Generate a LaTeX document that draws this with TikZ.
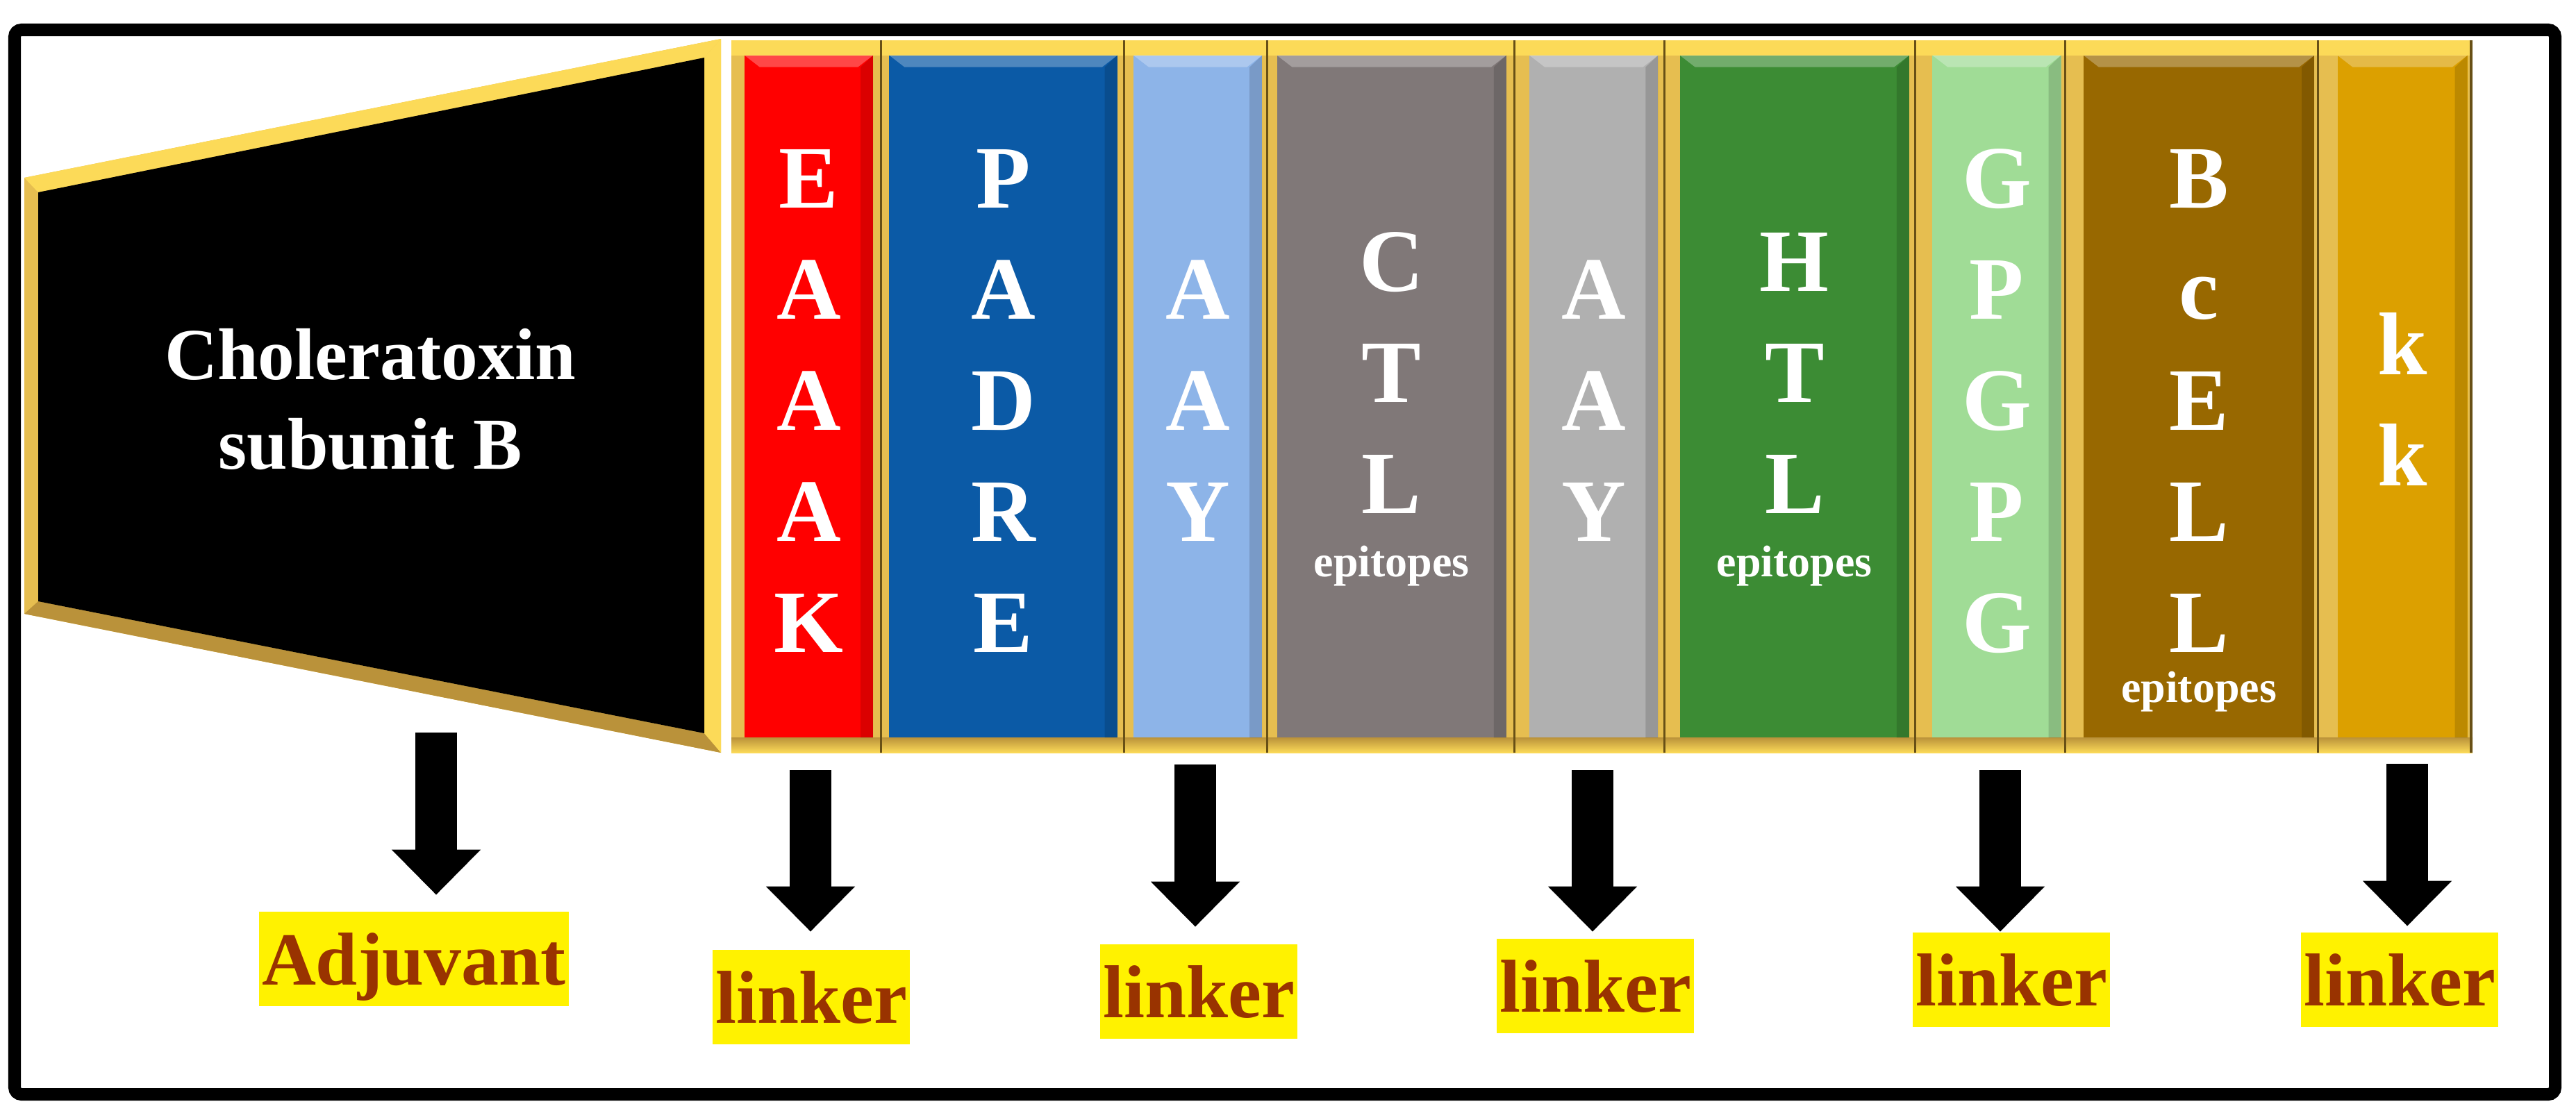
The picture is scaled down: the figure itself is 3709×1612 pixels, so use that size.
\documentclass[tikz,border=0pt]{standalone}
\usepackage{fontspec}
\setmainfont{Liberation Serif}
\usetikzlibrary{arrows.meta,positioning,calc}
\definecolor{GoldMid}{RGB}{230,190,80}
\definecolor{GoldTop}{RGB}{252,218,88}
\definecolor{GoldBot}{RGB}{186,146,58}
\definecolor{GoldDark}{RGB}{104,80,22}
\definecolor{EakRed}{RGB}{255,0,0}
\definecolor{PadreBlue}{RGB}{11,90,166}
\definecolor{AayBlue}{RGB}{141,180,232}
\definecolor{CtlGray}{RGB}{128,120,120}
\definecolor{AayGray}{RGB}{176,176,176}
\definecolor{HtlGreen}{RGB}{60,140,52}
\definecolor{GpgLime}{RGB}{160,220,150}
\definecolor{BcellBrown}{RGB}{152,104,0}
\definecolor{KkOrange}{RGB}{220,160,0}
\definecolor{LabelBrown}{RGB}{153,51,0}

\begin{document}
\begin{tikzpicture}[x=0.01cm,y=-0.01cm,
  bevel/.style={path picture={
    \fill[white,opacity=.28] (path picture bounding box.north west) -- (path picture bounding box.north east)
      -- ([shift={(-0.22cm,-0.17cm)}]path picture bounding box.north east) -- ([shift={(0.22cm,-0.17cm)}]path picture bounding box.north west) -- cycle;
    \fill[black,opacity=.14] (path picture bounding box.north east) -- (path picture bounding box.south east)
      -- ([shift={(-0.18cm,0cm)}]path picture bounding box.south east) -- ([shift={(-0.18cm,-0.17cm)}]path picture bounding box.north east) -- cycle;
  }},
  blk/.style={rectangle,inner sep=0pt,minimum height=9.82cm,bevel},
  ltr/.style={anchor=base,inner sep=0pt,text=white,font=\fontsize{36.5}{36.5}\selectfont\bfseries},
  epi/.style={anchor=base,inner sep=0pt,text=white,font=\fontsize{18.2}{18.2}\selectfont\bfseries},
  lab/.style={fill=yellow,text=LabelBrown,font=\fontsize{30.7}{30.7}\selectfont\bfseries,minimum height=1.35cm,inner xsep=0.04cm,inner ysep=0pt,text depth=0pt},
  bigarrow/.style={line width=0.6cm,-{Triangle[length=0.65cm,width=1.24cm]}},
  sepline/.style={draw=GoldDark,line width=0.03cm}
]
  \useasboundingbox (0,0) rectangle (3709,1612);
  % outer frame
  \draw[line width=0.18cm,rounded corners=0.1cm] (21,43) rectangle (3679,1576);

  % cholera toxin B trapezoid
  \fill[GoldMid] (35,256) -- (1038,56) -- (1038,1084) -- (35,884) -- cycle;
  \fill[GoldTop] (35,256) -- (1038,56) -- (1014,83) -- (55,277) -- cycle;
  \fill[GoldBot] (35,884) -- (55,866) -- (1014,1056) -- (1038,1084) -- cycle;
  \fill[GoldTop] (1014,83) -- (1038,56) -- (1038,1084) -- (1014,1056) -- cycle;
  \fill[black] (55,277) -- (1014,83) -- (1014,1056) -- (55,866) -- cycle;
  \node[inner sep=0pt,text=white,align=center,font=\fontsize{30}{36.7}\selectfont\bfseries] (ctb) at (533,575) {Choleratoxin\\subunit B};

  % gold rail behind the blocks
  \fill[GoldMid] (1053,58) rectangle (3560,1084);
  \fill[GoldTop] (1053,58) rectangle (3560,80);
  \shade[top color=GoldBot,bottom color=GoldTop] (1053,1062) rectangle (3560,1084);
  \foreach \sx in {1268,1618,1824,2180,2396,2757,2973,3337}
    \draw[sepline] (\sx,58) -- (\sx,1084);
  \draw[GoldDark,line width=0.04cm] (3558,58) -- (3558,1084);

  % blocks
  \node[blk,fill=EakRed,minimum width=1.85cm] (eaaak) at (1164.5,571) {};
  \node[blk,fill=PadreBlue,minimum width=3.28cm,right=0.22cm of eaaak] (padre) {};
  \node[blk,fill=AayBlue,minimum width=1.85cm,right=0.22cm of padre] (aay1) {};
  \node[blk,fill=CtlGray,minimum width=3.30cm,right=0.20cm of aay1] (ctl) {};
  \node[blk,fill=AayGray,minimum width=1.85cm,right=0.32cm of ctl] (aay2) {};
  \node[blk,fill=HtlGreen,minimum width=3.30cm,right=0.30cm of aay2] (htl) {};
  \node[blk,fill=GpgLime,minimum width=1.85cm,right=0.32cm of htl] (gpgpg) {};
  \node[blk,fill=BcellBrown,minimum width=3.32cm,right=0.31cm of gpgpg] (bcell) {};
  \node[blk,fill=KkOrange,minimum width=1.87cm,right=0.32cm of bcell] (kk) {};

  % letters
  \foreach \ch [count=\i] in {E,A,A,A,K}
    \node[ltr] (eaaak-\i) at ($(eaaak.north)+(0,{60+160*\i})$) {\ch};
  \foreach \ch [count=\i] in {P,A,D,R,E}
    \node[ltr] (padre-\i) at ($(padre.north)+(0,{60+160*\i})$) {\ch};
  \foreach \ch [count=\i] in {A,A,Y}
    \node[ltr] (aay1-\i) at ($(aay1.north)+(0,{220+160*\i})$) {\ch};
  \foreach \ch [count=\i] in {C,T,L}
    \node[ltr] (ctl-\i) at ($(ctl.north)+(0,{180+160*\i})$) {\ch};
  \node[epi] (ctl-ep) at ($(ctl.north)+(0,751)$) {epitopes};
  \foreach \ch [count=\i] in {A,A,Y}
    \node[ltr] (aay2-\i) at ($(aay2.north)+(0,{220+160*\i})$) {\ch};
  \foreach \ch [count=\i] in {H,T,L}
    \node[ltr] (htl-\i) at ($(htl.north)+(0,{180+160*\i})$) {\ch};
  \node[epi] (htl-ep) at ($(htl.north)+(0,751)$) {epitopes};
  \foreach \ch [count=\i] in {G,P,G,P,G}
    \node[ltr] (gpgpg-\i) at ($(gpgpg.north)+(0,{60+160*\i})$) {\ch};
  \foreach \ch [count=\i] in {B,c,E,L,L}
    \node[ltr] (bcell-\i) at ($(bcell.north)+(0,{60+160*\i})$) {\ch};
  \node[epi] (bcell-ep) at ($(bcell.north)+(0,932)$) {epitopes};
  \foreach \ch [count=\i] in {k,k}
    \node[ltr] (kk-\i) at ($(kk.north)+(0,{300+160*\i})$) {\ch};

  % labels
  \node[lab] (adj) at (596,1381) {Adjuvant};
  \node[lab] (lk1) at (1168,1436) {linker};
  \node[lab] (lk2) at (1726,1428) {linker};
  \node[lab] (lk3) at (2297,1420) {linker};
  \node[lab] (lk4) at (2896,1411) {linker};
  \node[lab] (lk5) at (3455,1411) {linker};

  % arrows
  \coordinate (a0) at (628,1055);
  \coordinate (a1) at (1167,1109);
  \coordinate (a2) at (1721,1101);
  \coordinate (a3) at (2293,1109);
  \coordinate (a4) at (2880,1109);
  \coordinate (a5) at (3466,1100);
  \foreach \src/\dst/\gp in {a0/adj/0.24cm,a1/lk1/0.26cm,a2/lk2/0.25cm,a3/lk3/0.10cm,a4/lk4/0.01cm,a5/lk5/0.09cm}
    \draw[bigarrow,shorten >=\gp] (\src) -- (\src |- \dst.north);
\end{tikzpicture}
\end{document}
